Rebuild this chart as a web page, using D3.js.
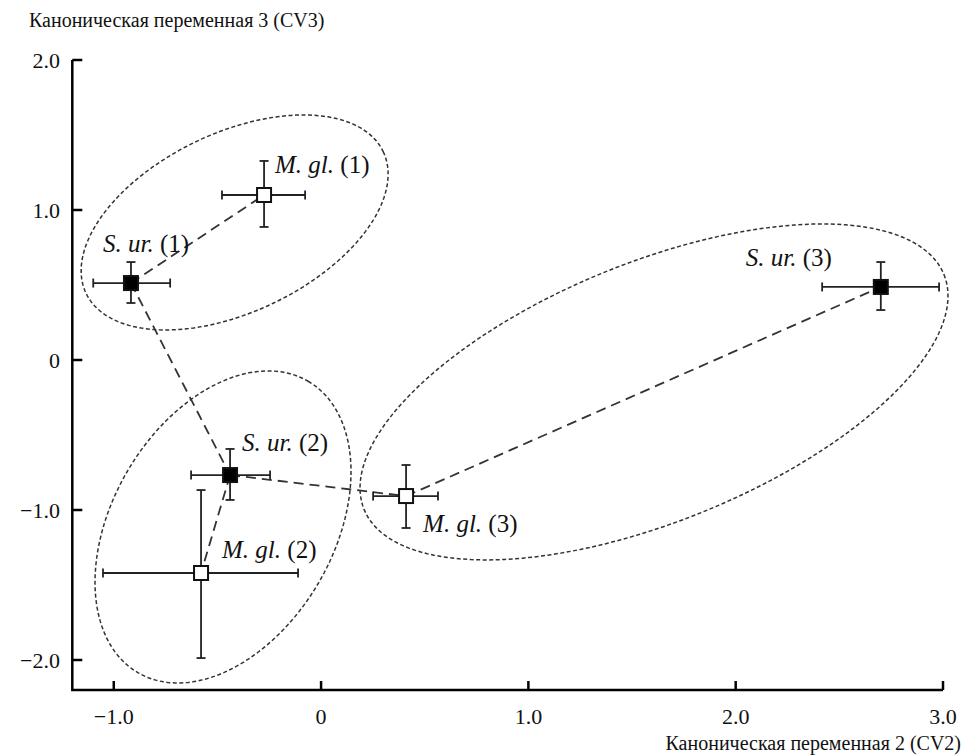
<!DOCTYPE html>
<html>
<head>
<meta charset="utf-8">
<script src="https://d3js.org/d3.v7.min.js"></script>
<style>
body { margin: 0; background: #fff; }
</style>
</head>
<body>
<div id="chart"></div>
<script>

// group means on canonical variables with error bars
var names   = ["S. ur.", "M. gl.", "S. ur.", "M. gl.", "M. gl.", "S. ur."];
var periods = ["(1)", "(1)", "(2)", "(2)", "(3)", "(3)"];
var filled  = [true, false, true, false, false, true];
var cv2     = [-0.917, -0.275, -0.439, -0.579, 0.410, 2.700];
var cv3     = [0.513, 1.100, -0.767, -1.420, -0.907, 0.487];
var cv2Lo   = [-1.099, -0.478, -0.627, -1.052, 0.251, 2.417];
var cv2Hi   = [-0.728, -0.077, -0.246, -0.111, 0.564, 2.981];
var cv3Lo   = [0.380, 0.887, -0.933, -1.987, -1.120, 0.333];
var cv3Hi   = [0.653, 1.327, -0.593, -0.867, -0.700, 0.653];

// dashed connections between means
var links = [[0, 1], [0, 2], [2, 3], [2, 4], [4, 5]];

// dotted ellipses (centre in data units, semi-axes in CV2 units, tilt in degrees)
var ellCx    = [-0.417, -0.473, 1.606];
var ellCy    = [0.917, -1.113, -0.213];
var ellA     = [0.794, 0.814, 1.509];
var ellB     = [0.432, 0.534, 0.625];
var ellAngle = [25.5, 59.7, 22.05];

var xTicks = [-1, 0, 1, 2, 3];
var yTicks = [-2, -1, 0, 1, 2];

var width = 963, height = 755;
var serif = "'Liberation Serif', 'Times New Roman', Times, 'DejaVu Serif', serif";

var svg = d3.select("#chart")
  .append("svg")
    .attr("width", width)
    .attr("height", height)
    .style("font-family", serif);

var x = d3.scaleLinear().domain([-1.2, 3.0]).range([72.3, 943]);
var y = d3.scaleLinear().domain([-2.2, 2.0]).range([690, 60]);

function fmt(d) {
  if (d === 0) return "0";
  return (d < 0 ? "\u2212" : "") + Math.abs(d).toFixed(1);
}

// ellipses
var ellPts = d3.range(ellCx.length).map(function(i) {
  var cx = x(ellCx[i]), cy = y(ellCy[i]);
  var a = x(ellA[i]) - x(0), b = x(ellB[i]) - x(0);
  var t = -ellAngle[i] * Math.PI / 180;
  return d3.range(0, 361, 2).map(function(deg) {
    var u = deg * Math.PI / 180;
    var px = a * Math.cos(u), py = b * Math.sin(u);
    return [cx + px * Math.cos(t) - py * Math.sin(t), cy + px * Math.sin(t) + py * Math.cos(t)];
  });
});

svg.append("g")
  .selectAll("path")
  .data(ellPts)
  .enter().append("path")
    .attr("d", d3.line())
    .attr("fill", "none")
    .attr("stroke", "#333")
    .attr("stroke-width", 1.5)
    .attr("stroke-dasharray", "4,2.5");

// connecting dashed lines
svg.append("g")
  .selectAll("line")
  .data(links)
  .enter().append("line")
    .attr("x1", function(d) { return x(cv2[d[0]]); })
    .attr("y1", function(d) { return y(cv3[d[0]]); })
    .attr("x2", function(d) { return x(cv2[d[1]]); })
    .attr("y2", function(d) { return y(cv3[d[1]]); })
    .attr("stroke", "#333")
    .attr("stroke-width", 1.8)
    .attr("stroke-dasharray", "10,6");

// error bars
var idx = d3.range(cv2.length);
var cap = 4.5;
var bars = svg.append("g").attr("stroke", "#222").attr("stroke-width", 1.8);

bars.selectAll(".h")
  .data(idx).enter().append("line")
    .attr("x1", function(i) { return x(cv2Lo[i]); })
    .attr("x2", function(i) { return x(cv2Hi[i]); })
    .attr("y1", function(i) { return y(cv3[i]); })
    .attr("y2", function(i) { return y(cv3[i]); });
bars.selectAll(".v")
  .data(idx).enter().append("line")
    .attr("x1", function(i) { return x(cv2[i]); })
    .attr("x2", function(i) { return x(cv2[i]); })
    .attr("y1", function(i) { return y(cv3Lo[i]); })
    .attr("y2", function(i) { return y(cv3Hi[i]); });
// caps
[cv2Lo, cv2Hi].forEach(function(arr) {
  bars.selectAll(null)
    .data(idx).enter().append("line")
      .attr("x1", function(i) { return x(arr[i]); })
      .attr("x2", function(i) { return x(arr[i]); })
      .attr("y1", function(i) { return y(cv3[i]) - cap; })
      .attr("y2", function(i) { return y(cv3[i]) + cap; });
});
[cv3Lo, cv3Hi].forEach(function(arr) {
  bars.selectAll(null)
    .data(idx).enter().append("line")
      .attr("y1", function(i) { return y(arr[i]); })
      .attr("y2", function(i) { return y(arr[i]); })
      .attr("x1", function(i) { return x(cv2[i]) - cap; })
      .attr("x2", function(i) { return x(cv2[i]) + cap; });
});

// markers
var s = 14;
svg.append("g")
  .selectAll("rect")
  .data(idx).enter().append("rect")
    .attr("x", function(i) { return x(cv2[i]) - s / 2; })
    .attr("y", function(i) { return y(cv3[i]) - s / 2; })
    .attr("width", s)
    .attr("height", s)
    .attr("fill", function(i) { return filled[i] ? "#000" : "#fff"; })
    .attr("stroke", "#111")
    .attr("stroke-width", 2);

// labels (offsets in px from the marker)
var labDx = [-28, 11, 12, 21, 17, -135];
var labDy = [-31, -22, -24, -15, 36, -21];
var lab = svg.append("g")
  .selectAll("text")
  .data(idx).enter().append("text")
    .attr("x", function(i) { return x(cv2[i]) + labDx[i]; })
    .attr("y", function(i) { return y(cv3[i]) + labDy[i]; })
    .attr("font-size", "25px")
    .attr("fill", "#111");
lab.append("tspan").attr("font-style", "italic").text(function(i) { return names[i]; });
lab.append("tspan").text(function(i) { return " " + periods[i]; });

// axes
var axis = svg.append("g").attr("stroke", "#000").attr("stroke-width", 2.5).attr("fill", "none");
axis.append("path")
  .attr("d", "M" + x(-1.2) + "," + y(2.0) + "V" + y(-2.2) + "H" + x(3.0));

axis.selectAll(".yt")
  .data(yTicks).enter().append("line")
    .attr("x1", x(-1.2)).attr("x2", x(-1.2) + 10)
    .attr("y1", function(d) { return y(d); })
    .attr("y2", function(d) { return y(d); });
axis.selectAll(".xt")
  .data(xTicks).enter().append("line")
    .attr("y1", y(-2.2)).attr("y2", y(-2.2) - 9)
    .attr("x1", function(d) { return x(d); })
    .attr("x2", function(d) { return x(d); });

svg.append("g")
  .selectAll("text")
  .data(yTicks).enter().append("text")
    .attr("x", 60)
    .attr("y", function(d) { return y(d); })
    .attr("dy", "0.35em")
    .attr("text-anchor", "end")
    .attr("font-size", "22px")
    .attr("fill", "#111")
    .text(fmt);

svg.append("g")
  .selectAll("text")
  .data(xTicks).enter().append("text")
    .attr("x", function(d) { return x(d); })
    .attr("y", 724)
    .attr("text-anchor", "middle")
    .attr("font-size", "22px")
    .attr("fill", "#111")
    .text(fmt);

// axis titles
svg.append("text")
  .attr("x", 29)
  .attr("y", 27)
  .attr("font-size", "20px")
  .attr("fill", "#111")
  .text("Каноническая переменная 3 (CV3)");

svg.append("text")
  .attr("x", 961)
  .attr("y", 750)
  .attr("text-anchor", "end")
  .attr("font-size", "20px")
  .attr("fill", "#111")
  .text("Каноническая переменная 2 (CV2)");

</script>
</body>
</html>
